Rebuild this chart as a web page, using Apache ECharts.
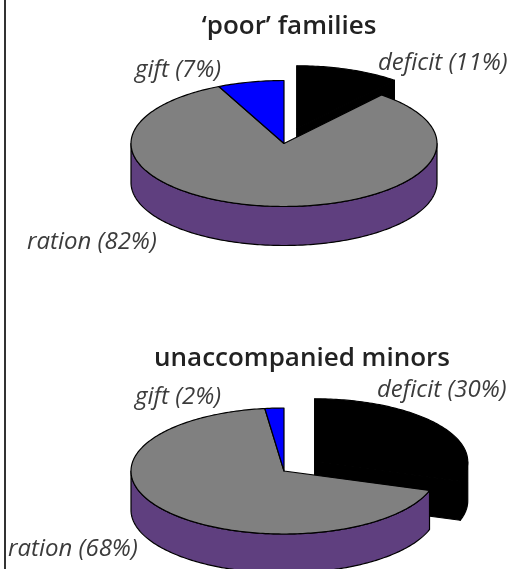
<!DOCTYPE html>
<html><head><meta charset="utf-8">
<style>html,body{margin:0;padding:0;background:#fff}#c{width:512px;height:569px}</style>
<script src="https://cdn.jsdelivr.net/npm/echarts@6/dist/echarts.min.js"></script>
</head><body><div id="c"></div>
<script>
const categories = ['deficit', 'ration', 'gift'];
const poorFamilies = [11, 82, 7];
const unaccompaniedMinors = [30, 68, 2];
const titles = ["\u2018poor\u2019 families", 'unaccompanied minors'];

const topColors = ['#000000', '#808080', '#0000FF'];
const wallColors = ['#000000', '#5F3F7F', '#0000FF'];
const explode = [38, 0, 0];
const RX = 153, RY = 63, DEPTH = 39;
const FONT = '"Open Sans", sans-serif';
const pies = [
  {cx: 284, cy: 143.5, anchor: [[378, 63], [27, 242], [135, 70]]},
  {cx: 284, cy: 471, anchor: [[377, 390], [8, 549], [135, 397]]}
];

function pt(p, a, dx, dy, z) {
  const r = a * Math.PI / 180;
  return [p.cx + dx + RX * Math.sin(r), p.cy + dy - RY * Math.cos(r) + z];
}
function arc(p, a0, a1, dx, dy, z) {
  const out = [], n = Math.max(2, Math.ceil(Math.abs(a1 - a0)));
  for (let i = 0; i <= n; i++) out.push(pt(p, a0 + (a1 - a0) * i / n, dx, dy, z));
  return out;
}
function makeSeries(values, p) {
  const total = values.reduce((s, v) => s + v, 0);
  const starts = [];
  values.reduce((s, v, i) => (starts[i] = s, s + v), 0);
  return {
    type: 'custom',
    coordinateSystem: 'none',
    silent: true,
    clip: false,
    data: values.map((v, i) => ({name: categories[i], value: [v, starts[i]]})),
    renderItem(params, api) {
      const i = params.dataIndex;
      const a0 = api.value(1) / total * 360;
      const a1 = a0 + api.value(0) / total * 360;
      const mid = (a0 + a1) / 2 * Math.PI / 180;
      const e = explode[i];
      const dx = e * Math.sin(mid), dy = -e * (RY / RX) * Math.cos(mid);
      const tip = [p.cx + dx, p.cy + dy];
      const stroke = {stroke: '#000', lineWidth: 1.2, lineJoin: 'round'};
      const kids = [];
      const poly = (points, fill) => kids.push({type: 'polygon', shape: {points}, style: Object.assign({fill}, stroke)});
      // cut faces: only an exploded slice shows them
      if (e > 0) {
        [a0, a1].forEach(a => {
          const o = pt(p, a, dx, dy, 0), o2 = pt(p, a, dx, dy, DEPTH);
          poly([tip, o, o2, [tip[0], tip[1] + DEPTH]], wallColors[i]);
        });
      }
      // front wall
      const w0 = Math.max(a0, 90), w1 = Math.min(a1, 270);
      if (w1 > w0) poly(arc(p, w0, w1, dx, dy, 0).concat(arc(p, w1, w0, dx, dy, DEPTH)), wallColors[i]);
      // top face
      poly([tip].concat(arc(p, a0, a1, dx, dy, 0)), topColors[i]);
      // label
      const v = api.value(0);
      kids.push({type: 'text', z2: 10, x: p.anchor[i][0], y: p.anchor[i][1], style: {
        text: categories[i] + ' (' + v + '%)', fill: '#3c3c3c', font: 'italic 400 24px ' + FONT,
        textAlign: 'left', textVerticalAlign: 'middle'}});
      return {type: 'group', children: kids};
    }
  };
}
const chart = echarts.init(document.getElementById('c'), null, {width: 512, height: 569});
const titleStyle = {fontFamily: FONT, fontWeight: 600, fontSize: 26, color: '#222'};
chart.setOption({
  animation: false,
  backgroundColor: '#fff',
  title: [
    {text: titles[0], left: 284, top: 9, textAlign: 'center', textStyle: titleStyle},
    {text: titles[1], left: 297, top: 341, textAlign: 'center', textStyle: titleStyle}
  ],
  graphic: [{type: 'line', shape: {x1: 5, y1: 0, x2: 5, y2: 569}, style: {stroke: '#333', lineWidth: 2}}],
  series: [makeSeries(poorFamilies, pies[0]), makeSeries(unaccompaniedMinors, pies[1])]
});
</script></body></html>
